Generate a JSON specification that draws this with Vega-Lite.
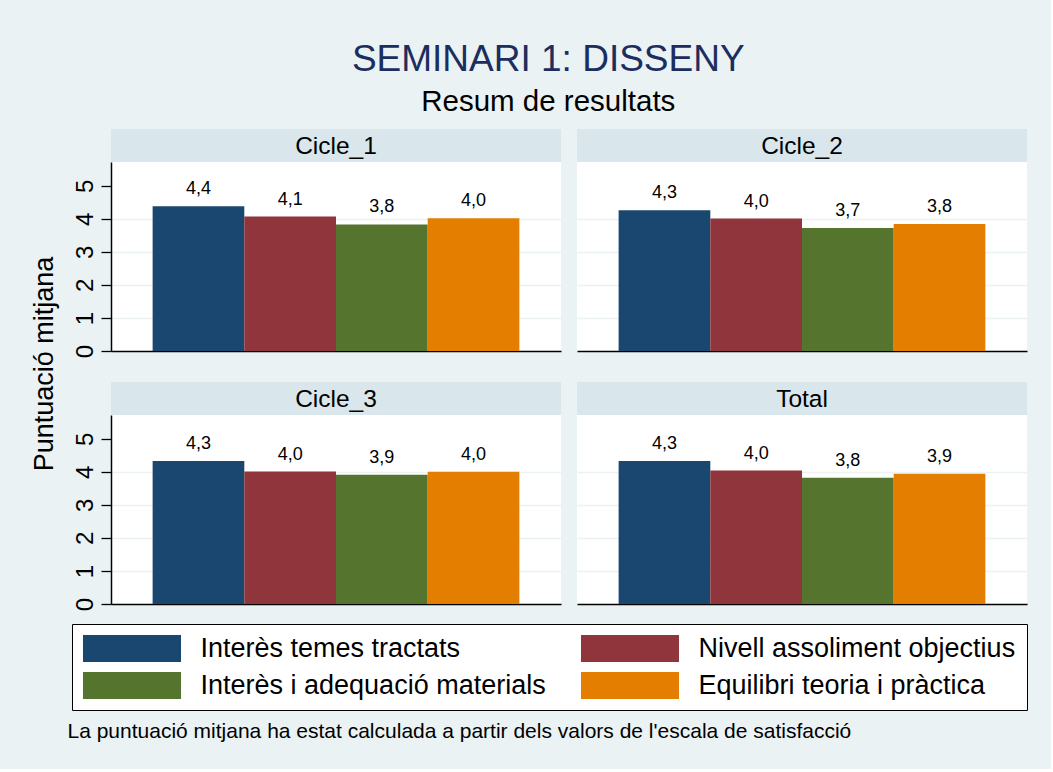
{
  "$schema": "https://vega.github.io/schema/vega-lite/v6.json",
  "background": "#EAF2F3",
  "padding": {"left": 30, "top": 40, "right": 23, "bottom": 25},
  "title": {
    "text": "SEMINARI 1: DISSENY",
    "subtitle": "Resum de resultats",
    "fontSize": 37,
    "fontWeight": "normal",
    "color": "#1C2D5F",
    "subtitleFontSize": 29.5,
    "subtitleColor": "black",
    "subtitlePadding": 9,
    "anchor": "middle",
    "offset": 12,
    "dx": 19
  },
  "datasets": {
    "bars": [
      {"panel": "Cicle_1", "cat": "Interès temes tractats", "value": 4.38},
      {"panel": "Cicle_1", "cat": "Nivell assoliment objectius", "value": 4.07},
      {"panel": "Cicle_1", "cat": "Interès i adequació materials", "value": 3.83},
      {"panel": "Cicle_1", "cat": "Equilibri teoria i pràctica", "value": 4.02},
      {"panel": "Cicle_2", "cat": "Interès temes tractats", "value": 4.26},
      {"panel": "Cicle_2", "cat": "Nivell assoliment objectius", "value": 4.01},
      {"panel": "Cicle_2", "cat": "Interès i adequació materials", "value": 3.72},
      {"panel": "Cicle_2", "cat": "Equilibri teoria i pràctica", "value": 3.84},
      {"panel": "Cicle_3", "cat": "Interès temes tractats", "value": 4.33},
      {"panel": "Cicle_3", "cat": "Nivell assoliment objectius", "value": 4.01},
      {"panel": "Cicle_3", "cat": "Interès i adequació materials", "value": 3.91},
      {"panel": "Cicle_3", "cat": "Equilibri teoria i pràctica", "value": 4.0},
      {"panel": "Total", "cat": "Interès temes tractats", "value": 4.33},
      {"panel": "Total", "cat": "Nivell assoliment objectius", "value": 4.04},
      {"panel": "Total", "cat": "Interès i adequació materials", "value": 3.82},
      {"panel": "Total", "cat": "Equilibri teoria i pràctica", "value": 3.94}
    ]
  },
  "vconcat": [
    {
      "hconcat": [
        {
          "width": 20,
          "height": 470,
          "view": {"stroke": null},
          "data": {"values": [{"t": "Puntuació mitjana"}]},
          "mark": {"type": "text", "angle": 270, "fontSize": 27, "baseline": "middle", "color": "black"},
          "encoding": {"text": {"field": "t"}}
        },
        {
          "vconcat": [
            {
              "hconcat": [
                {
                  "vconcat": [
                    {
                      "width": 450, "height": 33,
                      "view": {"fill": "#D9E6EB", "stroke": null},
                      "data": {"values": [{"panel": "Cicle_1"}]},
                      "mark": {"type": "text", "fontSize": 24.5, "color": "black", "baseline": "middle", "dy": 1},
                      "encoding": {"text": {"field": "panel"}}
                    },
                    {
                      "width": 450, "height": 189,
                      "view": {"fill": "white", "stroke": null},
                      "data": {"name": "bars"},
                      "transform": [{"filter": "datum.panel === 'Cicle_1'"}],
                      "encoding": {
                        "x": {"field": "cat", "type": "nominal", "sort": ["Interès temes tractats", "Nivell assoliment objectius", "Interès i adequació materials", "Equilibri teoria i pràctica"], "scale": {"paddingInner": 0, "paddingOuter": 0.454}, "axis": {"title": null, "labels": false, "ticks": false, "domain": true, "grid": false}},
                        "y": {"field": "value", "type": "quantitative", "scale": {"domain": [0, 5.72], "nice": false}, "axis": {"title": null, "values": [0, 1, 2, 3, 4, 5], "labelAngle": 270, "labelAlign": "center", "labelBaseline": "bottom", "labelFontSize": 24, "labelPadding": 4, "tickSize": 10, "grid": true, "gridColor": "#EAF2F3", "gridWidth": 1.5, "gridOpacity": {"condition": {"test": "datum.value === 0 || datum.value === 5", "value": 0}, "value": 1}}}
                      },
                      "layer": [
                        {"mark": {"type": "bar"}, "encoding": {"color": {"field": "cat", "type": "nominal", "scale": {"domain": ["Interès temes tractats", "Nivell assoliment objectius", "Interès i adequació materials", "Equilibri teoria i pràctica"], "range": ["#1A476F", "#90353B", "#55752F", "#E37E00"]}, "legend": {"title": null, "orient": "none", "legendX": 37, "legendY": 495, "columns": 2, "direction": "horizontal", "symbolType": "M-3.63,-1H3.63V1H-3.63Z", "symbolSize": 729, "symbolStrokeWidth": 0, "symbolOffset": 35.5, "labelOffset": 55, "labelFontSize": 27, "labelColor": "black", "labelLimit": 700, "fillColor": "white", "strokeColor": "black", "padding": 11, "rowPadding": 9, "columnPadding": 34, "symbolOpacity": 1}}}},
                        {"mark": {"type": "text", "baseline": "alphabetic", "dy": -12, "fontSize": 18, "color": "black"}, "encoding": {"text": {"field": "value", "type": "quantitative", "format": ".1f"}}}
                      ]
                    }
                  ],
                  "spacing": 0
                },
                {
                  "vconcat": [
                    {
                      "width": 450, "height": 33,
                      "view": {"fill": "#D9E6EB", "stroke": null},
                      "data": {"values": [{"panel": "Cicle_2"}]},
                      "mark": {"type": "text", "fontSize": 24.5, "color": "black", "baseline": "middle", "dy": 1},
                      "encoding": {"text": {"field": "panel"}}
                    },
                    {
                      "width": 450, "height": 189,
                      "view": {"fill": "white", "stroke": null},
                      "data": {"name": "bars"},
                      "transform": [{"filter": "datum.panel === 'Cicle_2'"}],
                      "encoding": {
                        "x": {"field": "cat", "type": "nominal", "sort": ["Interès temes tractats", "Nivell assoliment objectius", "Interès i adequació materials", "Equilibri teoria i pràctica"], "scale": {"paddingInner": 0, "paddingOuter": 0.454}, "axis": {"title": null, "labels": false, "ticks": false, "domain": true, "grid": false}},
                        "y": {"field": "value", "type": "quantitative", "scale": {"domain": [0, 5.72], "nice": false}, "axis": {"title": null, "values": [1, 2, 3, 4], "labels": false, "ticks": false, "domain": false, "grid": true, "gridColor": "#EAF2F3", "gridWidth": 1.5}}
                      },
                      "layer": [
                        {"mark": {"type": "bar"}, "encoding": {"color": {"field": "cat", "type": "nominal", "scale": {"domain": ["Interès temes tractats", "Nivell assoliment objectius", "Interès i adequació materials", "Equilibri teoria i pràctica"], "range": ["#1A476F", "#90353B", "#55752F", "#E37E00"]}, "legend": {"title": null, "orient": "none", "legendX": 37, "legendY": 495, "columns": 2, "direction": "horizontal", "symbolType": "M-3.63,-1H3.63V1H-3.63Z", "symbolSize": 729, "symbolStrokeWidth": 0, "symbolOffset": 35.5, "labelOffset": 55, "labelFontSize": 27, "labelColor": "black", "labelLimit": 700, "fillColor": "white", "strokeColor": "black", "padding": 11, "rowPadding": 9, "columnPadding": 34, "symbolOpacity": 1}}}},
                        {"mark": {"type": "text", "baseline": "alphabetic", "dy": -12, "fontSize": 18, "color": "black"}, "encoding": {"text": {"field": "value", "type": "quantitative", "format": ".1f"}}}
                      ]
                    }
                  ],
                  "spacing": 0
                }
              ],
              "spacing": 16
            },
            {
              "hconcat": [
                {
                  "vconcat": [
                    {
                      "width": 450, "height": 33,
                      "view": {"fill": "#D9E6EB", "stroke": null},
                      "data": {"values": [{"panel": "Cicle_3"}]},
                      "mark": {"type": "text", "fontSize": 24.5, "color": "black", "baseline": "middle", "dy": 1},
                      "encoding": {"text": {"field": "panel"}}
                    },
                    {
                      "width": 450, "height": 189,
                      "view": {"fill": "white", "stroke": null},
                      "data": {"name": "bars"},
                      "transform": [{"filter": "datum.panel === 'Cicle_3'"}],
                      "encoding": {
                        "x": {"field": "cat", "type": "nominal", "sort": ["Interès temes tractats", "Nivell assoliment objectius", "Interès i adequació materials", "Equilibri teoria i pràctica"], "scale": {"paddingInner": 0, "paddingOuter": 0.454}, "axis": {"title": null, "labels": false, "ticks": false, "domain": true, "grid": false}},
                        "y": {"field": "value", "type": "quantitative", "scale": {"domain": [0, 5.72], "nice": false}, "axis": {"title": null, "values": [0, 1, 2, 3, 4, 5], "labelAngle": 270, "labelAlign": "center", "labelBaseline": "bottom", "labelFontSize": 24, "labelPadding": 4, "tickSize": 10, "grid": true, "gridColor": "#EAF2F3", "gridWidth": 1.5, "gridOpacity": {"condition": {"test": "datum.value === 0 || datum.value === 5", "value": 0}, "value": 1}}}
                      },
                      "layer": [
                        {"mark": {"type": "bar"}, "encoding": {"color": {"field": "cat", "type": "nominal", "scale": {"domain": ["Interès temes tractats", "Nivell assoliment objectius", "Interès i adequació materials", "Equilibri teoria i pràctica"], "range": ["#1A476F", "#90353B", "#55752F", "#E37E00"]}, "legend": {"title": null, "orient": "none", "legendX": 37, "legendY": 495, "columns": 2, "direction": "horizontal", "symbolType": "M-3.63,-1H3.63V1H-3.63Z", "symbolSize": 729, "symbolStrokeWidth": 0, "symbolOffset": 35.5, "labelOffset": 55, "labelFontSize": 27, "labelColor": "black", "labelLimit": 700, "fillColor": "white", "strokeColor": "black", "padding": 11, "rowPadding": 9, "columnPadding": 34, "symbolOpacity": 1}}}},
                        {"mark": {"type": "text", "baseline": "alphabetic", "dy": -12, "fontSize": 18, "color": "black"}, "encoding": {"text": {"field": "value", "type": "quantitative", "format": ".1f"}}}
                      ]
                    }
                  ],
                  "spacing": 0
                },
                {
                  "vconcat": [
                    {
                      "width": 450, "height": 33,
                      "view": {"fill": "#D9E6EB", "stroke": null},
                      "data": {"values": [{"panel": "Total"}]},
                      "mark": {"type": "text", "fontSize": 24.5, "color": "black", "baseline": "middle", "dy": 1},
                      "encoding": {"text": {"field": "panel"}}
                    },
                    {
                      "width": 450, "height": 189,
                      "view": {"fill": "white", "stroke": null},
                      "data": {"name": "bars"},
                      "transform": [{"filter": "datum.panel === 'Total'"}],
                      "encoding": {
                        "x": {"field": "cat", "type": "nominal", "sort": ["Interès temes tractats", "Nivell assoliment objectius", "Interès i adequació materials", "Equilibri teoria i pràctica"], "scale": {"paddingInner": 0, "paddingOuter": 0.454}, "axis": {"title": null, "labels": false, "ticks": false, "domain": true, "grid": false}},
                        "y": {"field": "value", "type": "quantitative", "scale": {"domain": [0, 5.72], "nice": false}, "axis": {"title": null, "values": [1, 2, 3, 4], "labels": false, "ticks": false, "domain": false, "grid": true, "gridColor": "#EAF2F3", "gridWidth": 1.5}}
                      },
                      "layer": [
                        {"mark": {"type": "bar"}, "encoding": {"color": {"field": "cat", "type": "nominal", "scale": {"domain": ["Interès temes tractats", "Nivell assoliment objectius", "Interès i adequació materials", "Equilibri teoria i pràctica"], "range": ["#1A476F", "#90353B", "#55752F", "#E37E00"]}, "legend": {"title": null, "orient": "none", "legendX": 37, "legendY": 495, "columns": 2, "direction": "horizontal", "symbolType": "M-3.63,-1H3.63V1H-3.63Z", "symbolSize": 729, "symbolStrokeWidth": 0, "symbolOffset": 35.5, "labelOffset": 55, "labelFontSize": 27, "labelColor": "black", "labelLimit": 700, "fillColor": "white", "strokeColor": "black", "padding": 11, "rowPadding": 9, "columnPadding": 34, "symbolOpacity": 1}}}},
                        {"mark": {"type": "text", "baseline": "alphabetic", "dy": -12, "fontSize": 18, "color": "black"}, "encoding": {"text": {"field": "value", "type": "quantitative", "format": ".1f"}}}
                      ]
                    }
                  ],
                  "spacing": 0
                }
              ],
              "spacing": 16
            }
          ],
          "spacing": 24
        }
      ],
      "spacing": 13
    },
    {
      "width": 1,
      "height": 24,
      "view": {"stroke": null},
      "data": {"values": [{"note": "La puntuació mitjana ha estat calculada a partir dels valors de l'escala de satisfacció"}]},
      "mark": {"type": "text", "align": "left", "baseline": "middle", "dy": 0, "fontSize": 21, "dx": 32, "color": "black"},
      "encoding": {"text": {"field": "note"}}
    }
  ],
  "spacing": 109,
  "config": {
    "font": "Liberation Sans",
    "view": {"stroke": null},
    "axis": {"domainColor": "black", "tickColor": "black", "labelColor": "black", "domainWidth": 1.5, "tickWidth": 1.3},
    "locale": {"number": {"decimal": ",", "thousands": ".", "grouping": [3], "currency": ["", " €"]}}
  }
}
